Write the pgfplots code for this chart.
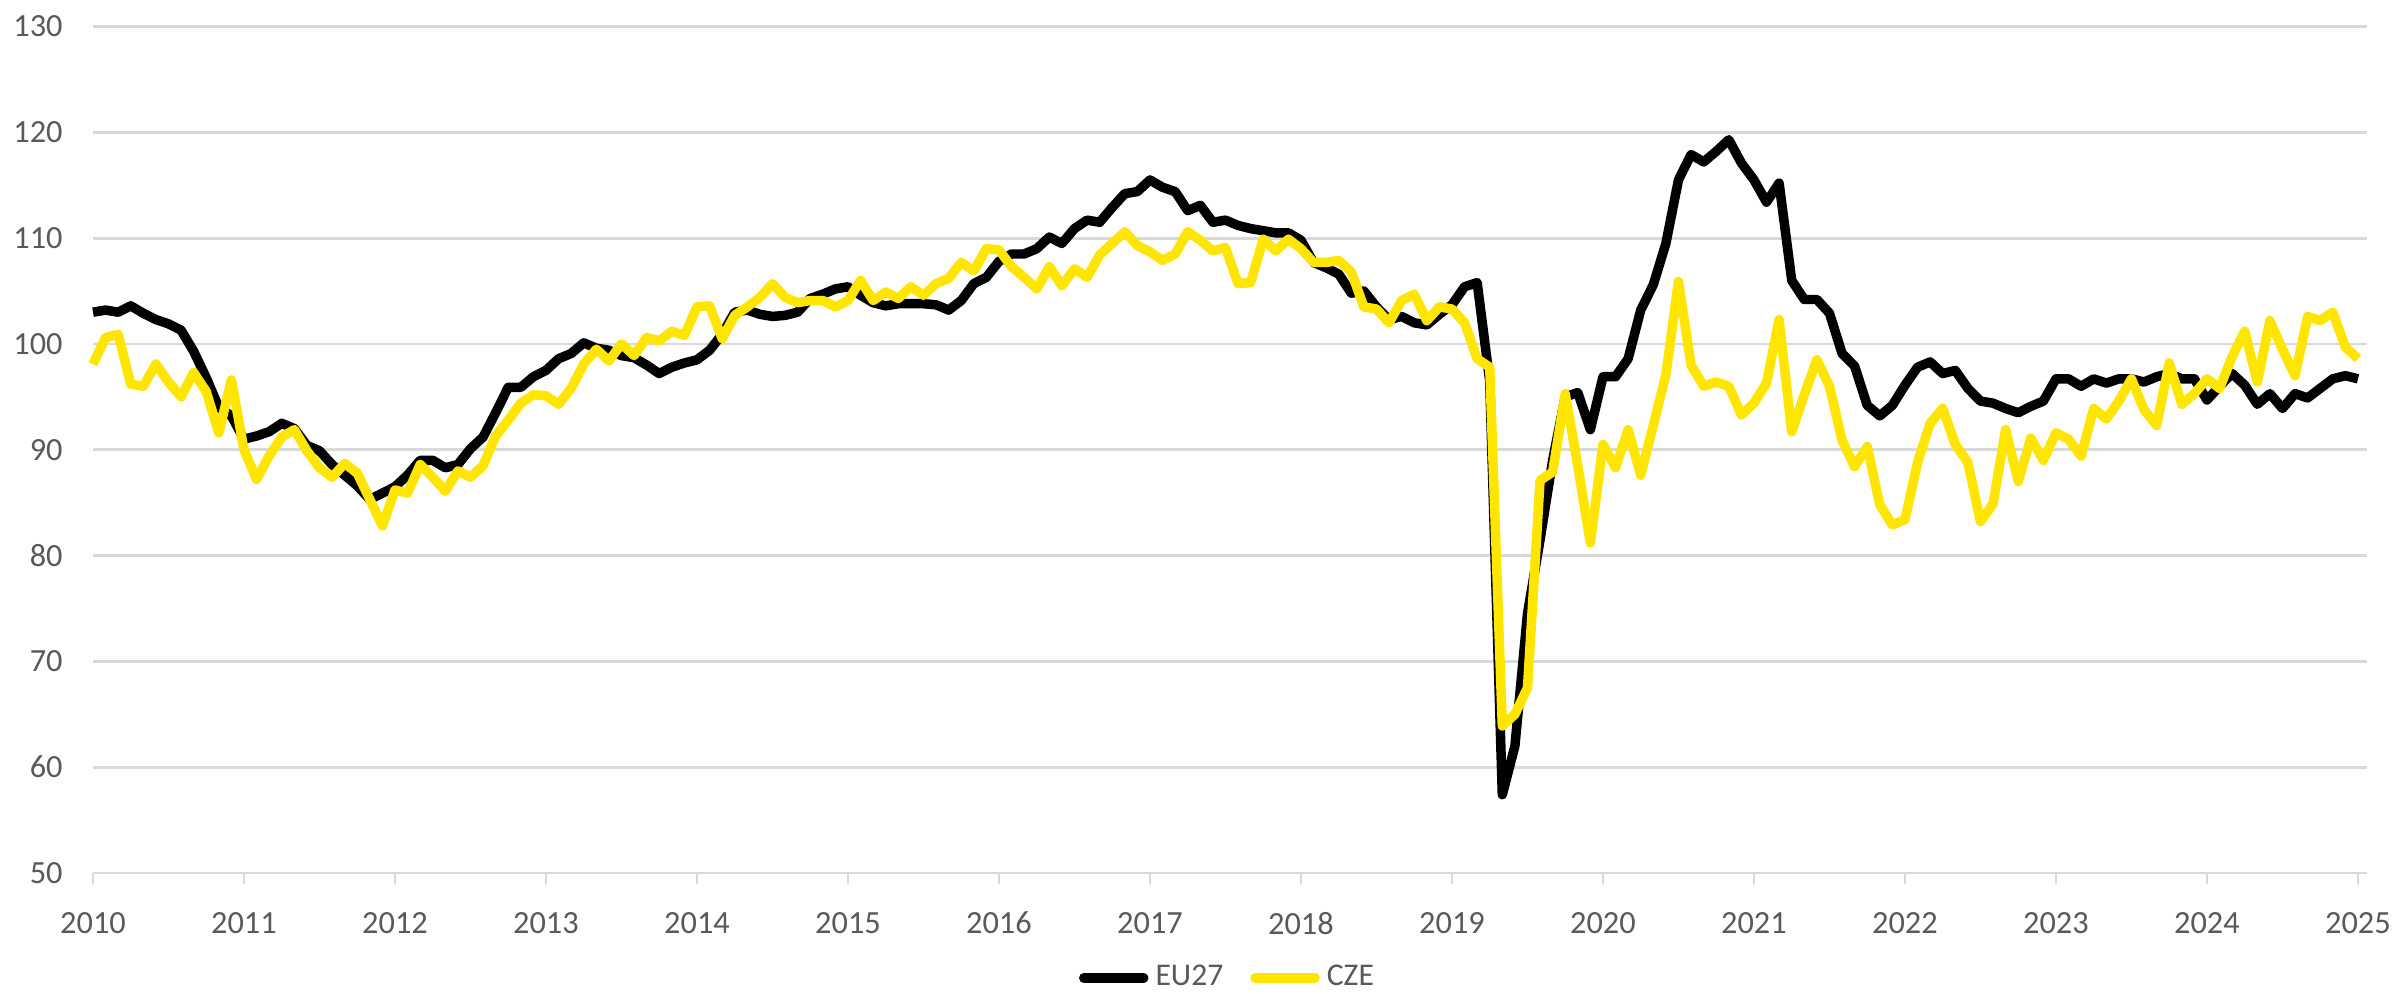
\documentclass[border=0pt]{standalone}
\usepackage{pgfplots}
\usepackage{pgfplotstable}
\pgfplotsset{compat=1.18}
\usepackage{fontspec}
\setmainfont{Carlito}

\definecolor{czeyellow}{RGB}{255,229,0}
\definecolor{gridgray}{RGB}{217,217,217}
\definecolor{labelgray}{RGB}{89,89,89}

% month index (0 = Jan 2010), EU27, CZE
\pgfplotstableread{
m eu cze
0 103.0 98.1
1 103.2 100.6
2 103.0 100.9
3 103.6 96.2
4 102.9 96.0
5 102.3 98.1
6 101.9 96.4
7 101.3 95.0
8 99.3 97.3
9 96.8 95.5
10 94.0 91.6
11 93.2 96.6
12 91.0 90.0
13 91.3 87.2
14 91.7 89.4
15 92.5 91.2
16 92.0 91.9
17 90.4 89.9
18 89.9 88.3
19 88.6 87.4
20 87.6 88.7
21 86.6 87.8
22 85.3 85.3
23 85.9 82.8
24 86.5 86.2
25 87.6 85.9
26 89.0 88.6
27 89.0 87.4
28 88.3 86.1
29 88.6 88.0
30 90.1 87.4
31 91.2 88.5
32 93.5 91.3
33 95.9 92.8
34 95.9 94.4
35 96.9 95.2
36 97.5 95.1
37 98.6 94.3
38 99.1 95.8
39 100.1 98.1
40 99.6 99.5
41 99.4 98.4
42 98.9 100.0
43 98.7 98.9
44 98.0 100.6
45 97.2 100.3
46 97.8 101.2
47 98.2 100.8
48 98.5 103.5
49 99.4 103.6
50 100.9 100.5
51 103.0 102.7
52 103.2 103.5
53 102.8 104.4
54 102.6 105.7
55 102.7 104.4
56 103.0 103.9
57 104.3 104.1
58 104.7 104.1
59 105.2 103.5
60 105.4 104.1
61 104.6 106.0
62 103.9 104.1
63 103.6 104.9
64 103.8 104.3
65 103.8 105.4
66 103.8 104.6
67 103.7 105.7
68 103.2 106.2
69 104.1 107.7
70 105.7 106.9
71 106.3 109.0
72 107.8 108.9
73 108.5 107.3
74 108.5 106.3
75 109.0 105.2
76 110.1 107.3
77 109.5 105.5
78 110.9 107.1
79 111.7 106.3
80 111.5 108.4
81 112.9 109.5
82 114.2 110.6
83 114.4 109.3
84 115.5 108.7
85 114.8 107.9
86 114.4 108.5
87 112.6 110.6
88 113.1 109.8
89 111.5 108.8
90 111.7 109.1
91 111.2 105.7
92 110.9 105.8
93 110.7 109.9
94 110.5 108.8
95 110.5 109.9
96 109.8 109.0
97 107.7 107.7
98 107.2 107.7
99 106.6 107.9
100 104.8 106.8
101 105.0 103.5
102 103.5 103.3
103 102.3 102.0
104 102.6 104.1
105 102.0 104.7
106 101.8 102.2
107 102.8 103.5
108 103.7 103.3
109 105.4 102.0
110 105.8 98.6
111 96.5 97.8
112 57.4 63.9
113 62.0 65.0
114 74.5 67.5
115 81.5 87.1
116 89.0 87.9
117 95.0 95.3
118 95.4 88.5
119 91.9 81.2
120 96.9 90.5
121 96.9 88.3
122 98.6 91.9
123 103.2 87.6
124 105.6 92.3
125 109.5 97.1
126 115.5 105.9
127 117.9 98.0
128 117.2 96.0
129 118.2 96.4
130 119.3 96.0
131 117.1 93.3
132 115.5 94.4
133 113.4 96.3
134 115.2 102.3
135 106.0 91.7
136 104.2 95.2
137 104.2 98.5
138 102.9 96.0
139 99.1 90.9
140 97.9 88.4
141 94.2 90.3
142 93.2 84.8
143 94.2 82.9
144 96.1 83.4
145 97.8 88.8
146 98.3 92.5
147 97.2 93.9
148 97.5 90.5
149 95.8 88.8
150 94.6 83.2
151 94.4 84.9
152 93.9 91.9
153 93.5 87.0
154 94.1 91.1
155 94.6 89.0
156 96.7 91.6
157 96.7 91.0
158 96.0 89.4
159 96.7 93.9
160 96.3 92.9
161 96.7 94.6
162 96.7 96.7
163 96.4 93.8
164 96.9 92.3
165 97.2 98.2
166 96.7 94.3
167 96.7 95.3
168 94.7 96.7
169 96.0 95.8
170 97.2 98.8
171 96.1 101.2
172 94.3 96.4
173 95.3 102.2
174 93.9 99.5
175 95.3 97.0
176 94.9 102.6
177 95.8 102.2
178 96.7 103.0
179 97.0 99.7
180 96.7 98.6
}\datatable

\begin{document}
\begin{tikzpicture}
\begin{axis}[
    scale only axis,
    width=227.4mm,
    height=84.65mm,
    xmin=2010, xmax=2025.06,
    ymin=50, ymax=130,
    xtick={2010,2011,...,2025},
    ytick={50,60,...,130},
    axis x line*=bottom,
    axis y line*=left,
    y axis line style={draw=none},
    x axis line style={draw=gridgray, line width=0.8pt},
    ymajorgrids,
    grid style={gridgray, line width=0.8pt},
    ytick style={draw=none},
    xtick style={draw=gridgray, line width=0.8pt},
    xtick align=outside,
    major tick length=1.07mm,
    tick label style={font=\fontsize{9.2}{11}\selectfont, text=labelgray},
    /pgf/number format/assume math mode=true,
    xticklabel style={/pgf/number format/1000 sep={}, yshift=-1.6mm},
    yticklabel style={xshift=-1.8mm},
    clip=false,
    legend columns=2,
    legend style={
        at={(0.5,-0.124)}, anchor=center,
        draw=none, fill=none,
        font=\fontsize{9}{11}\selectfont, text=labelgray,
        /tikz/every even column/.append style={column sep=2mm},
        inner sep=0pt,
    },
    legend image code/.code={
        \draw[#1, line cap=round] (0mm,0mm) -- (6.0mm,0mm);
    },
]
\addplot[black, line width=2.7pt, line join=round]
    table[x expr=2010+\thisrow{m}/12, y=eu] {\datatable};
\addlegendentry{EU27}
\addplot[czeyellow, line width=2.7pt, line join=round]
    table[x expr=2010+\thisrow{m}/12, y=cze] {\datatable};
\addlegendentry{CZE}
\end{axis}
\pgfresetboundingbox
\path (current axis.south west) ++(-9.3mm,-12.1mm) rectangle ++(239.7mm,99.4mm);
\end{tikzpicture}
\end{document}
